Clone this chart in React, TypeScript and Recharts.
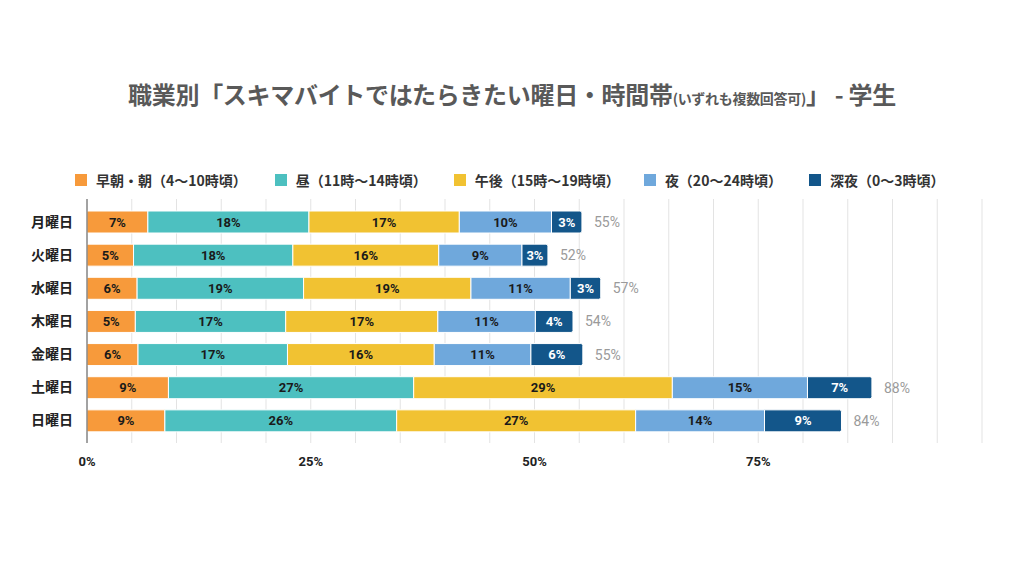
import { BarChart, Bar, XAxis, YAxis, CartesianGrid, LabelList } from "recharts"

const days = ["月曜日", "火曜日", "水曜日", "木曜日", "金曜日", "土曜日", "日曜日"]
const morning = [6.8, 5.2, 5.6, 5.4, 5.7, 9.1, 8.7]
const noon = [18.0, 17.8, 18.6, 16.8, 16.7, 27.4, 25.9]
const afternoon = [16.8, 16.3, 18.7, 17.0, 16.4, 28.9, 26.7]
const evening = [10.3, 9.3, 11.1, 10.9, 10.8, 15.1, 14.4]
const lateNight = [3.4, 2.9, 3.4, 4.2, 5.8, 7.2, 8.6]
const totals = [55, 52, 57, 54, 55, 88, 84]

const xTicks = [0, 5, 10, 15, 20, 25, 30, 35, 40, 45, 50, 55, 60, 65, 70, 75, 80, 85, 90, 95, 100]
const xLabeled = [0, 25, 50, 75]

const series = [
  { key: "morning", name: "早朝・朝（4〜10時頃）", color: "#F79A3B", text: "#1a1a1a" },
  { key: "noon", name: "昼（11時〜14時頃）", color: "#4DC0C0", text: "#1a1a1a" },
  { key: "afternoon", name: "午後（15時〜19時頃）", color: "#F1C232", text: "#1a1a1a" },
  { key: "evening", name: "夜（20〜24時頃）", color: "#6FA8DC", text: "#1a1a1a" },
  { key: "lateNight", name: "深夜（0〜3時頃）", color: "#13568A", text: "#ffffff" },
]

const data = days.map((day, i) => ({
  day,
  morning: morning[i],
  noon: noon[i],
  afternoon: afternoon[i],
  evening: evening[i],
  lateNight: lateNight[i],
  total: totals[i],
}))

const jp = '"Noto Sans CJK JP", "Noto Sans", sans-serif'
const num = 'Roboto, "Noto Sans", sans-serif'

export default function App() {
  return (
    <div style={{ position: "absolute", left: 0, top: 0, width: 1024, height: 576, background: "#fff", fontFamily: jp }}>
      <div
        style={{
          position: "absolute",
          top: 76,
          left: 0,
          width: 1024,
          textAlign: "center",
          fontSize: 24,
          fontWeight: 700,
          color: "#595959",
          whiteSpace: "nowrap",
          letterSpacing: -0.3,
        }}
      >
        職業別「スキマバイトではたらきたい曜日・時間帯
        <span style={{ fontSize: 14 }}>(いずれも複数回答可)</span>」 - 学生
      </div>

      <div
        style={{
          position: "absolute",
          top: 170,
          left: 75,
          display: "flex",
          fontSize: 14,
          fontWeight: 700,
          color: "#333",
          whiteSpace: "nowrap",
        }}
      >
        {series.map((s, i) => (
          <div key={s.key} style={{ display: "flex", alignItems: "center", marginRight: [28, 27, 24, 27, 0][i] }}>
            <span style={{ width: 12, height: 12, background: s.color, display: "inline-block", marginRight: 9 }} />
            {s.name}
          </div>
        ))}
      </div>

      <BarChart
        width={1024}
        height={576}
        data={data}
        layout="vertical"
        margin={{ top: 199, right: 42, bottom: 103, left: 7 }}
        barSize={22}
        style={{ position: "absolute", left: 0, top: 0 }}
      >
        <CartesianGrid horizontal={false} stroke="#e3e3e3" />
        <XAxis
          type="number"
          domain={[0, 100]}
          ticks={xTicks}
          interval={0}
          axisLine={false}
          tickLine={false}
          height={30}
          tickMargin={8}
          tick={{ fontFamily: num, fontSize: 13, fontWeight: 700, fill: "#222" }}
          tickFormatter={(v: number) => (xLabeled.includes(v) ? `${v}%` : "")}
        />
        <YAxis
          type="category"
          dataKey="day"
          width={80}
          padding={{ top: 6, bottom: 6 }}
          axisLine={{ stroke: "#555" }}
          tickLine={false}
          tickMargin={8}
          tick={{ fontFamily: jp, fontSize: 14, fontWeight: 700, fill: "#222" }}
        />
        {series.map((s, i) => (
          <Bar
            key={s.key}
            dataKey={s.key}
            name={s.name}
            stackId="a"
            fill={s.color}
            stroke="#fff"
            strokeWidth={1}
            radius={i === series.length - 1 ? [0, 2, 2, 0] : 0}
            isAnimationActive={false}
          >
            <LabelList
              dataKey={s.key}
              position="center"
              fill={s.text}
              style={{ fontFamily: num, fontSize: 13, fontWeight: 700 }}
              formatter={(v: number) => `${Math.round(v)}%`}
            />
            {i === series.length - 1 && (
              <LabelList
                dataKey="total"
                position="right"
                offset={12}
                fill="#9a9a9a"
                style={{ fontFamily: num, fontSize: 14 }}
                formatter={(v: number) => `${v}%`}
              />
            )}
          </Bar>
        ))}
      </BarChart>
    </div>
  )
}
